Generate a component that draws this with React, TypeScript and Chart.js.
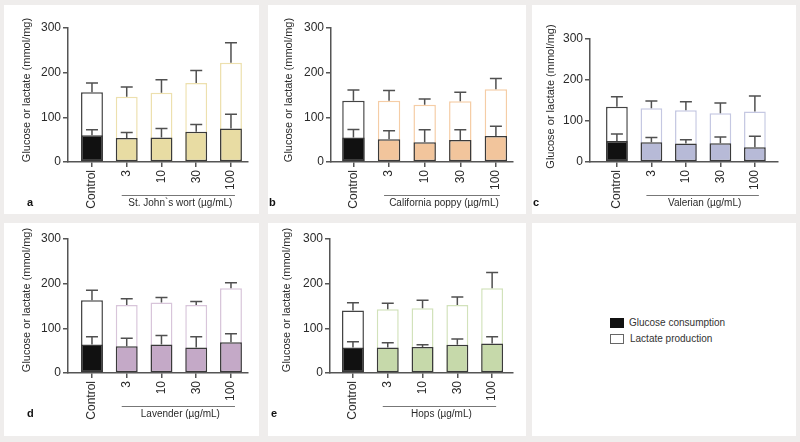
import React, { useEffect, useRef } from 'react';
import { Chart, registerables } from 'chart.js';

Chart.register(...registerables);

// ---------------- data ----------------
const categories = ['Control', '3', '10', '30', '100'];

const stJohnGlucose = [60, 54, 55, 68, 75];
const stJohnGlucoseErr = [12, 12, 20, 16, 32];
const stJohnLactate = [156, 146, 155, 177, 222];
const stJohnLactateErr = [21, 22, 29, 28, 45];

const poppyGlucose = [55, 51, 44, 49, 58];
const poppyGlucoseErr = [18, 19, 28, 23, 22];
const poppyLactate = [137, 137, 128, 136, 163];
const poppyLactateErr = [24, 23, 13, 20, 24];

const valerianGlucose = [51, 48, 45, 46, 36];
const valerianGlucoseErr = [17, 12, 9, 15, 27];
const valerianLactate = [135, 131, 126, 119, 123];
const valerianLactateErr = [24, 18, 21, 25, 38];

const lavenderGlucose = [64, 60, 64, 57, 69];
const lavenderGlucoseErr = [17, 18, 20, 24, 19];
const lavenderLactate = [163, 152, 158, 152, 190];
const lavenderLactateErr = [22, 14, 11, 8, 12];

const hopsGlucose = [57, 57, 58, 63, 66];
const hopsGlucoseErr = [13, 11, 5, 13, 15];
const hopsLactate = [140, 143, 145, 152, 190];
const hopsLactateErr = [17, 13, 18, 18, 35];

const yTicks = [0, 100, 200, 300];
const yAxisTitle = 'Glucose or lactate (mmol/mg)';
const legendLabels = ['Glucose consumption', 'Lactate production'];

// ---------------- styling / layout ----------------
const FONT = "'Liberation Sans', Arial, Helvetica, sans-serif";
const AXIS = '#555555';
const TEXT = '#2a2a2a';
const BAR_EDGE = '#3a3a3a';

type Spec = {
  letter: string;
  group: string;
  glucose: number[];
  glucoseErr: number[];
  lactate: number[];
  lactateErr: number[];
  fill: string;
  edge: string;
  box: { left: number; top: number; w: number; h: number };
  area: { left: number; top: number; right: number; bottom: number };
  xMin: number;
  xMax: number;
  titleX: number;
  titleY: number;
  letterX: number;
};

const panels: Spec[] = [
  {
    letter: 'a', group: 'St. John`s wort (µg/mL)',
    glucose: stJohnGlucose, glucoseErr: stJohnGlucoseErr, lactate: stJohnLactate, lactateErr: stJohnLactateErr,
    fill: '#e8dca3', edge: '#ede0ae',
    box: { left: 4, top: 5, w: 255, h: 209 }, area: { left: 64, top: 23, right: 244, bottom: 157 },
    xMin: -0.69, xMax: 4.49, titleX: 22.5, titleY: 85, letterX: 23,
  },
  {
    letter: 'b', group: 'California poppy (µg/mL)',
    glucose: poppyGlucose, glucoseErr: poppyGlucoseErr, lactate: poppyLactate, lactateErr: poppyLactateErr,
    fill: '#f2c59c', edge: '#f5cda6',
    box: { left: 268, top: 5, w: 258, h: 209 }, area: { left: 63, top: 23, right: 245, bottom: 157 },
    xMin: -0.63, xMax: 4.48, titleX: 21, titleY: 85, letterX: 1,
  },
  {
    letter: 'c', group: 'Valerian (µg/mL)',
    glucose: valerianGlucose, glucoseErr: valerianGlucoseErr, lactate: valerianLactate, lactateErr: valerianLactateErr,
    fill: '#b7bad7', edge: '#c5c8e2',
    box: { left: 532, top: 5, w: 264, h: 209 }, area: { left: 58, top: 34, right: 246, bottom: 157 },
    xMin: -0.78, xMax: 4.67, titleX: 19, titleY: 91.5, letterX: 1,
  },
  {
    letter: 'd', group: 'Lavender (µg/mL)',
    glucose: lavenderGlucose, glucoseErr: lavenderGlucoseErr, lactate: lavenderLactate, lactateErr: lavenderLactateErr,
    fill: '#c4a9c7', edge: '#d8c5da',
    box: { left: 4, top: 223, w: 255, h: 213 }, area: { left: 64, top: 16, right: 244, bottom: 150 },
    xMin: -0.69, xMax: 4.49, titleX: 22.5, titleY: 77, letterX: 23,
  },
  {
    letter: 'e', group: 'Hops (µg/mL)',
    glucose: hopsGlucose, glucoseErr: hopsGlucoseErr, lactate: hopsLactate, lactateErr: hopsLactateErr,
    fill: '#c6d9aa', edge: '#d2e2bb',
    box: { left: 268, top: 223, w: 258, h: 213 }, area: { left: 62, top: 16, right: 245, bottom: 150 },
    xMin: -0.66, xMax: 4.6, titleX: 19, titleY: 77, letterX: 3,
  },
];

const X_AXIS_H = 52;

function Panel({ spec }: { spec: Spec }) {
  const ref = useRef<HTMLCanvasElement>(null);

  useEffect(() => {
    const s = spec;
    const errs = [s.glucoseErr, s.lactateErr];

    const errorBars = {
      id: 'errorBars',
      afterDatasetsDraw(chart: any) {
        const ctx = chart.ctx;
        const y = chart.scales.y;
        ctx.save();
        ctx.strokeStyle = '#505050';
        ctx.lineWidth = 1.5;
        chart.data.datasets.forEach((ds: any, di: number) => {
          const meta = chart.getDatasetMeta(di);
          meta.data.forEach((bar: any, i: number) => {
            const v = ds.data[i].y;
            const top = y.getPixelForValue(v + errs[di][i]);
            ctx.beginPath();
            ctx.moveTo(bar.x, bar.y);
            ctx.lineTo(bar.x, top);
            ctx.moveTo(bar.x - 6, top);
            ctx.lineTo(bar.x + 6, top);
            ctx.stroke();
          });
        });
        ctx.restore();
      },
    };

    const annotations = {
      id: 'annotations',
      afterDraw(chart: any) {
        const ctx = chart.ctx;
        const x = chart.scales.x;
        const b = chart.chartArea.bottom;
        ctx.save();
        // group bracket
        const x1 = x.getPixelForValue(1) - 5;
        const x2 = x.getPixelForValue(categories.length - 1) + 4;
        ctx.strokeStyle = '#777';
        ctx.lineWidth = 1;
        ctx.beginPath();
        ctx.moveTo(x1, b + 33.5);
        ctx.lineTo(x2, b + 33.5);
        ctx.stroke();
        ctx.fillStyle = TEXT;
        ctx.font = `10px ${FONT}`;
        ctx.textAlign = 'center';
        ctx.textBaseline = 'middle';
        ctx.fillText(s.group, (x1 + x2) / 2 + 2, b + 41);
        // panel letter
        ctx.font = `bold 11px ${FONT}`;
        ctx.textAlign = 'left';
        ctx.fillStyle = '#111';
        ctx.fillText(s.letter, s.letterX, b + 41);
        // y title
        ctx.translate(s.titleX, s.titleY);
        ctx.rotate(-Math.PI / 2);
        ctx.font = `11px ${FONT}`;
        ctx.textAlign = 'center';
        ctx.fillStyle = TEXT;
        ctx.fillText(yAxisTitle, 0, 0);
        ctx.restore();
      },
    };

    const ctrlFill = '#111111';
    const ctrlEdge = '#444444';

    const chart = new Chart(ref.current as HTMLCanvasElement, {
      type: 'bar',
      data: {
        datasets: [
          {
            label: legendLabels[0],
            data: s.glucose.map((v, i) => ({ x: i, y: v })),
            backgroundColor: s.glucose.map((_, i) => (i === 0 ? ctrlFill : s.fill)),
            borderColor: BAR_EDGE,
            borderWidth: 1.5,
            borderSkipped: false,
            barPercentage: 0.63,
            categoryPercentage: 1,
          },
          {
            label: legendLabels[1],
            data: s.lactate.map((v, i) => ({ x: i, y: v })),
            backgroundColor: '#ffffff',
            borderColor: s.lactate.map((_, i) => (i === 0 ? ctrlEdge : s.edge)),
            borderWidth: 1.5,
            borderSkipped: false,
            barPercentage: 0.63,
            categoryPercentage: 1,
          },
        ],
      } as any,
      options: {
        animation: false,
        responsive: false,
        devicePixelRatio: 1,
        layout: {
          padding: {
            left: 0,
            top: s.area.top,
            right: s.box.w - s.area.right,
            bottom: Math.max(0, s.box.h - s.area.bottom - X_AXIS_H),
          },
        },
        plugins: { legend: { display: false }, tooltip: { enabled: false } },
        scales: {
          x: {
            type: 'linear',
            stacked: true,
            offset: false,
            min: s.xMin,
            max: s.xMax,
            afterBuildTicks: (sc: any) => {
              sc.ticks = categories.map((_, i) => ({ value: i }));
            },
            afterFit: (sc: any) => {
              sc.height = X_AXIS_H;
            },
            ticks: {
              callback: (v: any) => categories[v as number] ?? '',
              minRotation: 90,
              maxRotation: 90,
              autoSkip: false,
              color: TEXT,
              font: { family: FONT, size: 12 },
              padding: 3,
            },
            grid: {
              drawOnChartArea: false,
              drawTicks: true,
              tickLength: 5,
              color: AXIS,
              lineWidth: 1.5,
              offset: false,
            },
            border: { color: AXIS, width: 1.5 },
          },
          y: {
            stacked: false,
            min: 0,
            max: 300,
            afterBuildTicks: (sc: any) => {
              sc.ticks = yTicks.map((v) => ({ value: v }));
            },
            afterFit: (sc: any) => {
              sc.width = s.area.left;
            },
            ticks: {
              color: TEXT,
              font: { family: FONT, size: 12 },
              padding: 2,
            },
            grid: {
              drawOnChartArea: false,
              drawTicks: true,
              tickLength: 5,
              color: AXIS,
              lineWidth: 1.5,
            },
            border: { color: AXIS, width: 1.5 },
          },
        },
      } as any,
      plugins: [errorBars, annotations],
    });
    return () => chart.destroy();
  }, [spec]);

  return (
    <div
      style={{
        position: 'absolute',
        left: spec.box.left,
        top: spec.box.top,
        width: spec.box.w,
        height: spec.box.h,
        background: '#ffffff',
      }}
    >
      <canvas ref={ref} width={spec.box.w} height={spec.box.h} style={{ display: 'block' }} />
    </div>
  );
}

function LegendPanel() {
  const text: React.CSSProperties = {
    position: 'absolute',
    fontFamily: FONT,
    fontSize: 10,
    color: '#333',
    lineHeight: '12px',
    whiteSpace: 'nowrap',
  };
  return (
    <div
      style={{ position: 'absolute', left: 532, top: 223, width: 264, height: 213, background: '#ffffff' }}
    >
      <div style={{ position: 'absolute', left: 78, top: 95, width: 14, height: 10, background: '#111' }} />
      <div style={{ ...text, left: 97, top: 94 }}>{legendLabels[0]}</div>
      <div
        style={{
          position: 'absolute', left: 78, top: 111, width: 14, height: 10,
          background: '#fff', border: '1px solid #666', boxSizing: 'border-box',
        }}
      />
      <div style={{ ...text, left: 98, top: 109.5 }}>{legendLabels[1]}</div>
    </div>
  );
}

export default function App() {
  return (
    <div
      style={{ position: 'absolute', left: 0, top: 0, width: 800, height: 442, background: '#efedec', overflow: 'hidden' }}
    >
      {panels.map((p) => (
        <Panel key={p.letter} spec={p} />
      ))}
      <LegendPanel />
    </div>
  );
}
